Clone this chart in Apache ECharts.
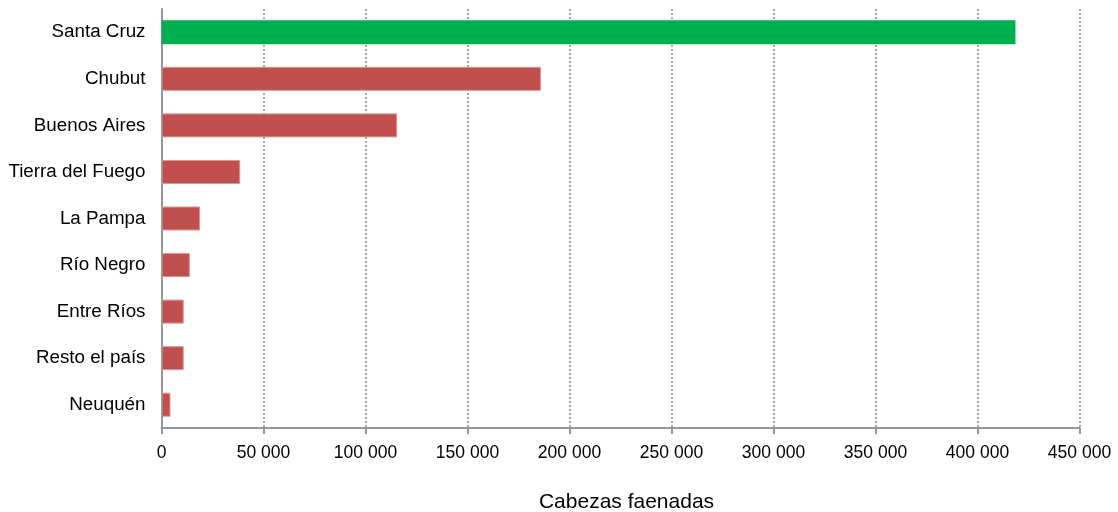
<!DOCTYPE html>
<html>
<head>
<meta charset="utf-8">
<script src="https://cdn.jsdelivr.net/npm/echarts@6/dist/echarts.min.js"></script>
<style>
html,body{margin:0;padding:0;background:#fff;}
#chart{width:1118px;height:512px;}
</style>
</head>
<body>
<div id="chart"></div>
<script>
const categories = ["Santa Cruz","Chubut","Buenos Aires","Tierra del Fuego","La Pampa","Río Negro","Entre Ríos","Resto el país","Neuquén"];
const values = [418600, 186000, 115500, 38600, 18900, 13900, 10900, 10900, 4400];
const highlight = "Santa Cruz";
const xTicks = {min: 0, max: 450000, interval: 50000};
const axisName = "Cabezas faenadas";

const fontFamily = "Liberation Sans, Arial, sans-serif";
const chart = echarts.init(document.getElementById('chart'), null, {renderer: 'canvas'});
chart.setOption({
  animation: false,
  grid: {left: 161.5, right: 38.5, top: 9, bottom: 84, containLabel: false, outerBoundsMode: 'none'},
  xAxis: {
    type: 'value',
    min: xTicks.min, max: xTicks.max, interval: xTicks.interval,
    name: axisName,
    nameLocation: 'middle',
    nameGap: 64,
    nameTextStyle: {fontSize: 21, color: '#000', fontFamily: fontFamily, padding: [0,0,0,12]},
    axisLine: {show: true, lineStyle: {color: '#969696', width: 2}},
    axisTick: {show: true, length: 6, lineStyle: {color: '#969696', width: 2}},
    axisLabel: {
      fontSize: 17.5, color: '#000', fontFamily: fontFamily, margin: 16,
      formatter: v => String(v).replace(/\B(?=(\d{3})+(?!\d))/g, ' ')
    },
    splitLine: {show: true, lineStyle: {color: '#8c8c8c', type: [2, 2], width: 1.5}}
  },
  yAxis: {
    type: 'category',
    data: categories,
    inverse: true,
    axisLine: {show: true, lineStyle: {color: '#969696', width: 2}},
    axisTick: {show: false},
    axisLabel: {fontSize: 18.8, color: '#000', fontFamily: fontFamily, margin: 16}
  },
  series: [{
    type: 'bar',
    data: values.map((v, i) => ({
      value: v,
      itemStyle: categories[i] === highlight
        ? {color: '#00B050', borderColor: '#00B050', borderWidth: 0}
        : {color: '#C0504D', borderColor: '#D99695', borderWidth: 1}
    })),
    barWidth: 24
  }]
});
</script>
</body>
</html>
